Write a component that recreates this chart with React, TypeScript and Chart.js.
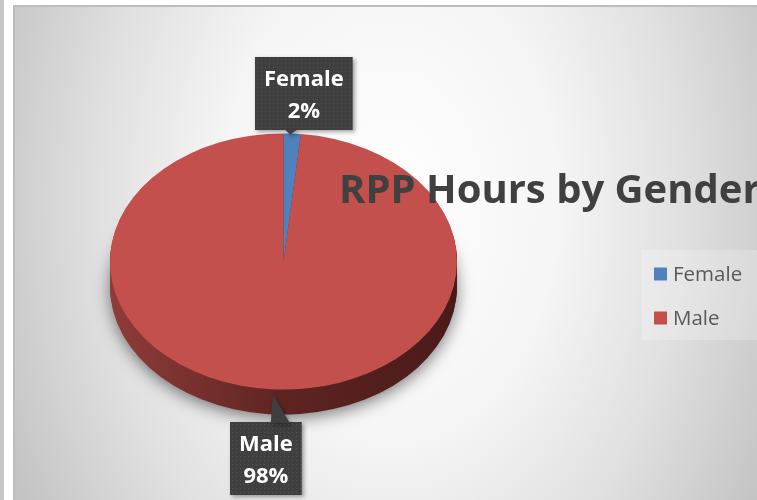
import React, { useEffect, useRef } from "react";
import { Chart, registerables } from "chart.js";

Chart.register(...registerables);

const categories = ["Female", "Male"];
const shares = [1.6, 98.4];
const sliceColors = ["#4f81bd", "#c4504e"];
const sideColors = [
  ["#3d6a9e", "#2a4c77", "#213d60"],
  ["#8f3c39", "#5e2422", "#4a1a19"],
];
const chartTitle = "RPP Hours by Gender";

const TILT = 0.738;
const DEPTH = 25;
const FONT = "'Open Sans', 'DejaVu Sans', sans-serif";

function pieGeom(chart: any) {
  const meta = chart.getDatasetMeta(0);
  const arcs = meta.data as any[];
  const a0 = arcs[0];
  return { arcs, cx: a0.x, cy: a0.y, r: a0.outerRadius };
}

const pie3d = {
  id: "pie3d",
  beforeDatasetsDraw(chart: any) {
    const ctx = chart.ctx as CanvasRenderingContext2D;
    const { arcs, cx, cy, r } = pieGeom(chart);
    for (let i = DEPTH; i >= 1; i--) {
      ctx.save();
      if (i === DEPTH) {
        ctx.shadowColor = "rgba(0,0,0,0.5)";
        ctx.shadowBlur = 16;
        ctx.shadowOffsetX = 0;
        ctx.shadowOffsetY = 4;
      }
      ctx.translate(cx, cy + i);
      ctx.scale(1, TILT);
      arcs.forEach((arc: any, idx: number) => {
        const g = ctx.createLinearGradient(-r, 0, r, 0);
        const st = sideColors[idx];
        g.addColorStop(0, st[0]);
        g.addColorStop(0.5, st[1]);
        g.addColorStop(1, st[2]);
        ctx.fillStyle = g;
        ctx.beginPath();
        ctx.moveTo(0, 0);
        ctx.arc(0, 0, r, arc.startAngle, arc.endAngle);
        ctx.closePath();
        ctx.fill();
      });
      ctx.restore();
    }
    ctx.save();
    ctx.translate(cx, cy);
    ctx.scale(1, TILT);
    ctx.translate(-cx, -cy);
  },
  afterDatasetsDraw(chart: any) {
    chart.ctx.restore();
  },
  afterDraw(chart: any) {
    const ctx = chart.ctx as CanvasRenderingContext2D;
    const { arcs, cx, cy, r } = pieGeom(chart);
    const data = chart.data.datasets[0].data as number[];
    const total = data.reduce((s, v) => s + v, 0);
    const labels = chart.data.labels as string[];
    const colors = chart.data.datasets[0].backgroundColor as string[];

    // title
    ctx.save();
    ctx.font = `bold 40px ${FONT}`;
    ctx.fillStyle = "#404040";
    ctx.textBaseline = "alphabetic";
    ctx.textAlign = "left";
    ctx.fillText(chartTitle, 339, 203);
    ctx.restore();

    // legend
    ctx.save();
    ctx.fillStyle = "rgba(255,255,255,0.22)";
    ctx.fillRect(642, 250, 120, 90);
    ctx.font = `20.5px ${FONT}`;
    ctx.textBaseline = "alphabetic";
    labels.forEach((lab, i) => {
      const y = 274 + i * 44;
      ctx.fillStyle = colors[i];
      ctx.fillRect(654, y - 6.5, 13, 13);
      ctx.fillStyle = "#595959";
      ctx.fillText(lab, 673, y + 7);
    });
    ctx.restore();

    // data labels
    arcs.forEach((arc: any, i: number) => {
      const m = (arc.startAngle + arc.endAngle) / 2;
      const ax = cx + r * Math.cos(m);
      const ay = cy + r * TILT * Math.sin(m);
      const above = ay < cy;
      const pct = Math.round((data[i] / total) * 100) + "%";
      ctx.save();
      ctx.font = `bold 22px ${FONT}`;
      const w = Math.max(ctx.measureText(labels[i]).width, ctx.measureText(pct).width) + 18;
      const h = 73;
      const shift = ax > cx ? 12 : -9;
      const bx = Math.round(ax + shift - w / 2);
      const by = above ? Math.round(ay - 4 - h) : Math.round(ay + DEPTH + 8);
      const tipX = ax - 2;
      const tipY = above ? ay + 1 : ay + 5;
      const baseC = tipX + (above ? 1 : 8);
      ctx.shadowColor = "rgba(0,0,0,0.35)";
      ctx.shadowBlur = 4;
      ctx.shadowOffsetX = 2;
      ctx.shadowOffsetY = 2;
      ctx.fillStyle = "#3f3f3f";
      ctx.beginPath();
      ctx.rect(bx, by, w, h);
      ctx.fill();
      ctx.beginPath();
      if (above) {
        ctx.moveTo(baseC - 7, by + h - 1);
        ctx.lineTo(tipX, tipY);
        ctx.lineTo(baseC + 7, by + h - 1);
      } else {
        ctx.moveTo(baseC - 10, by + 1);
        ctx.lineTo(tipX, tipY);
        ctx.lineTo(baseC + 9, by + 1);
      }
      ctx.closePath();
      ctx.fill();
      ctx.shadowColor = "transparent";
      ctx.fillStyle = "rgba(255,255,255,0.10)";
      for (let yy = by + 2; yy < by + h - 1; yy += 4) {
        for (let xx = bx + 2; xx < bx + w - 1; xx += 4) {
          ctx.fillRect(xx, yy, 1, 1);
        }
      }
      ctx.fillStyle = "#ffffff";
      ctx.textAlign = "center";
      ctx.textBaseline = "alphabetic";
      ctx.fillText(labels[i], bx + w / 2, by + 29);
      ctx.fillText(pct, bx + w / 2, by + 61);
      ctx.restore();
    });
  },
};

export default function App() {
  const ref = useRef<HTMLCanvasElement | null>(null);
  useEffect(() => {
    if (!ref.current) return;
    const chart = new Chart(ref.current, {
      type: "pie",
      data: {
        labels: categories,
        datasets: [
          {
            data: shares,
            backgroundColor: sliceColors,
            borderWidth: 0,
            clip: false as any,
          },
        ],
      },
      options: {
        animation: false,
        responsive: false,
        devicePixelRatio: 1,
        events: [],
        layout: { padding: { left: 110, right: 300, top: 88, bottom: 65 } },
        plugins: {
          legend: { display: false },
          tooltip: { enabled: false },
          title: { display: false },
        },
      },
      plugins: [pie3d as any],
    });
    return () => chart.destroy();
  }, []);

  return (
    <div style={{ position: "fixed", left: 0, top: 0, width: 757, height: 500, overflow: "hidden", background: "#ffffff" }}>
      <div style={{ position: "absolute", left: 0, top: 0, width: 4, height: 500, background: "#c6c6c6" }} />
      <div
        style={{
          position: "absolute",
          left: 13,
          top: 5,
          width: 760,
          height: 510,
          borderTop: "2px solid #bdbdbd",
          borderLeft: "2px solid #bdbdbd",
          background:
            "radial-gradient(ellipse 420px 600px at 375px 195px, #ffffff 0%, #f5f5f5 40%, #e0e0e0 70%, #c4c4c4 100%)",
        }}
      />
      <canvas ref={ref} width={757} height={500} style={{ position: "absolute", left: 0, top: 0, width: 757, height: 500 }} />
    </div>
  );
}
